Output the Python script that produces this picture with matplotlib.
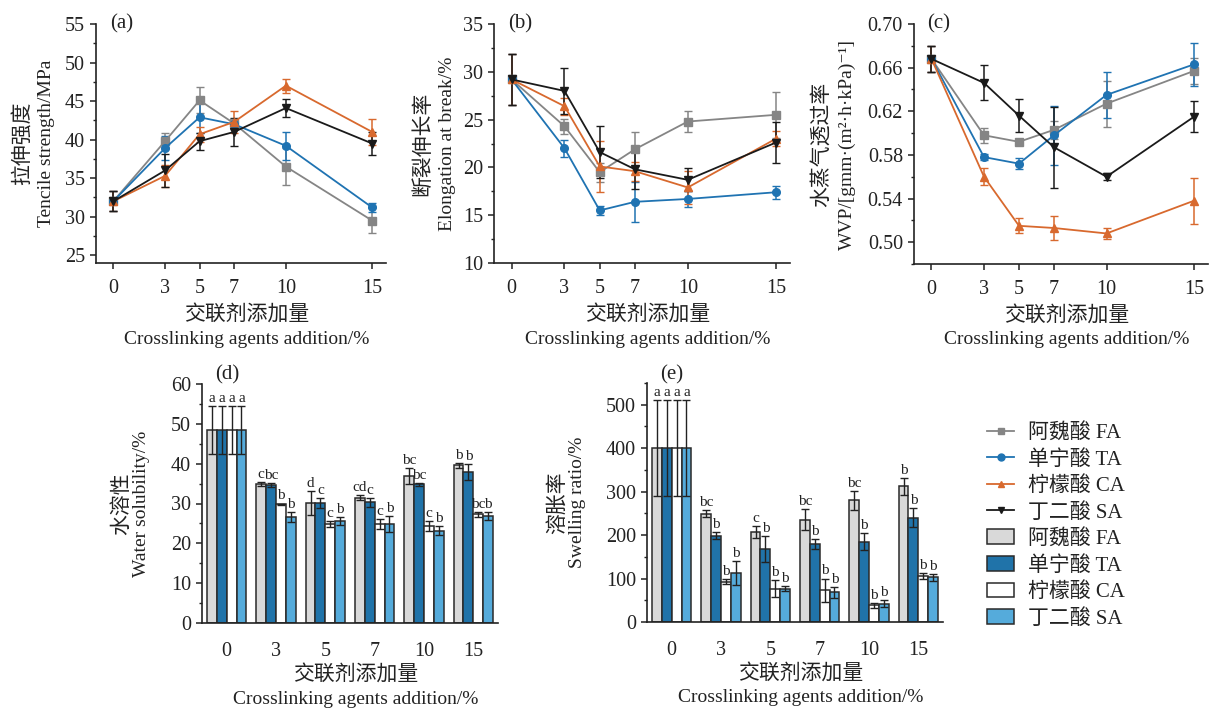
import numpy as np
import matplotlib
matplotlib.use('Agg')
import matplotlib.pyplot as plt
from matplotlib.lines import Line2D
from matplotlib.patches import Patch
from matplotlib.ticker import MultipleLocator, FixedLocator

plt.rcParams['font.family'] = ['Liberation Serif', 'Noto Sans CJK SC', 'DejaVu Sans']
plt.rcParams['axes.unicode_minus'] = False

# x: 交联剂添加量 (%)
x_add = [0, 3, 5, 7, 10, 15]
tick_labels = ['0', '3', '5', '7', '10', '15']
names = ['阿魏酸 FA', '单宁酸 TA', '柠檬酸 CA', '丁二酸 SA']

# (a) 拉伸强度 / MPa
ts_fa = [32.0, 39.8, 45.1, 42.1, 36.5, 29.5]
ts_ta = [32.0, 38.9, 42.9, 42.0, 39.2, 31.2]
ts_ca = [32.0, 35.3, 40.7, 42.3, 47.0, 41.0]
ts_sa = [32.0, 36.0, 39.8, 41.0, 44.1, 39.5]
ts_fa_err = [1.3, 1.0, 1.7, 0.6, 2.4, 1.6]
ts_ta_err = [1.3, 1.6, 2.0, 0.5, 1.8, 0.6]
ts_ca_err = [1.3, 1.4, 1.0, 1.4, 0.9, 1.7]
ts_sa_err = [1.3, 2.2, 1.1, 1.8, 1.2, 1.5]

# (b) 断裂伸长率 / %
el_fa = [29.2, 24.3, 19.5, 21.9, 24.8, 25.5]
el_ta = [29.2, 22.0, 15.5, 16.4, 16.7, 17.4]
el_ca = [29.2, 26.4, 20.1, 19.6, 17.9, 23.0]
el_sa = [29.2, 28.0, 21.6, 19.8, 18.7, 22.6]
el_fa_err = [2.7, 0.8, 1.0, 1.8, 1.1, 2.4]
el_ta_err = [2.7, 0.9, 0.5, 2.1, 0.8, 0.7]
el_ca_err = [2.7, 0.9, 2.7, 1.0, 1.7, 0.8]
el_sa_err = [2.7, 2.4, 2.7, 2.1, 1.2, 2.1]

# (c) WVP
wvp_fa = [0.668, 0.598, 0.592, 0.603, 0.627, 0.657]
wvp_ta = [0.668, 0.578, 0.572, 0.598, 0.635, 0.663]
wvp_ca = [0.668, 0.560, 0.515, 0.513, 0.508, 0.538]
wvp_sa = [0.668, 0.646, 0.616, 0.587, 0.560, 0.615]
wvp_fa_err = [0.012, 0.007, 0.003, 0.008, 0.021, 0.012]
wvp_ta_err = [0.012, 0.003, 0.005, 0.027, 0.021, 0.020]
wvp_ca_err = [0.012, 0.008, 0.007, 0.011, 0.005, 0.021]
wvp_sa_err = [0.012, 0.016, 0.015, 0.037, 0.003, 0.014]
wvp_ticks = [0.50, 0.54, 0.58, 0.62, 0.66, 0.70]

# (d) 水溶性 / %
ws_fa = [48.5, 34.9, 30.1, 31.5, 36.8, 39.6]
ws_ta = [48.5, 34.6, 30.1, 30.3, 34.8, 37.9]
ws_ca = [48.5, 29.8, 24.8, 24.8, 24.3, 27.3]
ws_sa = [48.5, 26.6, 25.6, 24.8, 23.2, 26.9]
ws_fa_err = [6.0, 0.5, 3.0, 0.6, 2.0, 0.6]
ws_ta_err = [6.0, 0.5, 1.2, 1.1, 0.3, 2.0]
ws_ca_err = [6.0, 0.2, 0.8, 1.3, 1.2, 0.6]
ws_sa_err = [6.0, 1.3, 1.0, 2.0, 1.2, 1.0]
ws_fa_sig = ['a', 'c', 'd', 'cd', 'bc', 'b']
ws_ta_sig = ['a', 'bc', 'c', 'c', 'bc', 'b']
ws_ca_sig = ['a', 'b', 'c', 'c', 'c', 'bc']
ws_sa_sig = ['a', 'b', 'b', 'b', 'b', 'b']

# (e) 溶胀率 / %
sr_fa = [400, 249, 207, 235, 280, 312]
sr_ta = [400, 199, 168, 179, 185, 240]
sr_ca = [400, 93, 77, 73, 38, 105]
sr_sa = [400, 113, 77, 68, 42, 103]
sr_fa_err = [110, 8, 13, 24, 22, 19]
sr_ta_err = [110, 8, 30, 12, 19, 22]
sr_ca_err = [110, 5, 20, 27, 5, 7]
sr_sa_err = [110, 27, 5, 13, 8, 8]
sr_fa_sig = ['a', 'bc', 'c', 'bc', 'bc', 'b']
sr_ta_sig = ['a', 'b', 'b', 'b', 'b', 'b']
sr_ca_sig = ['a', 'b', 'b', 'b', 'b', 'b']
sr_sa_sig = ['a', 'b', 'b', 'b', 'b', 'b']

line_colors = ['#858585', '#1f73b2', '#d8692e', '#1a1a1a']
line_markers = ['s', 'o', '^', 'v']
bar_colors = ['#d9d9d9', '#2073a9', '#ffffff', '#55abdb']

PX = 0.72  # points per pixel at dpi 100
INK = '#222222'


def style_axes(ax):
    for s in ['top', 'right']:
        ax.spines[s].set_visible(False)
    for s in ['left', 'bottom']:
        ax.spines[s].set_linewidth(1.2)
        ax.spines[s].set_color(INK)
    ax.tick_params(axis='both', which='major', direction='out', length=4.5, width=1.1,
                   labelsize=14.5, colors=INK)
    ax.tick_params(axis='y', which='minor', direction='out', length=2.5, width=1.0, colors=INK)


def labels(ax, cn_y, en_y, off_cn, off_en, tag, tag_pos, xoff_cn=-52, xoff_en=-76):
    ax.annotate('交联剂添加量', xy=(0.5, 0), xycoords='axes fraction', xytext=(4, xoff_cn * PX),
                textcoords='offset points', ha='center', va='center', fontsize=15,
                fontweight='light', color=INK)
    ax.annotate('Crosslinking agents addition/%', xy=(0.5, 0), xycoords='axes fraction',
                xytext=(4, xoff_en * PX), textcoords='offset points', ha='center', va='center',
                fontsize=14, color=INK)
    ax.annotate(cn_y, xy=(0, 0.5), xycoords='axes fraction', xytext=(off_cn * PX, 0),
                textcoords='offset points', ha='center', va='center', rotation=90, fontsize=15,
                fontweight='light', color=INK)
    ax.annotate(en_y, xy=(0, 0.5), xycoords='axes fraction', xytext=(off_en * PX, 0),
                textcoords='offset points', ha='center', va='center', rotation=90, fontsize=14,
                color=INK)
    ax.annotate(tag, xy=(0, 1), xycoords='axes fraction', xytext=(tag_pos[0] * PX, tag_pos[1] * PX),
                textcoords='offset points', ha='left', va='center', fontsize=15, color=INK)


def line_panel(ax, series, errs, ylim, major, minor, fmt=None, ticks=None):
    for y, e, c, m in zip(series, errs, line_colors, line_markers):
        ax.errorbar(x_add, y, yerr=e, color=c, marker=m, markersize=5.5, linewidth=1.3,
                    elinewidth=1.1, capsize=3, capthick=1.0, ecolor=c)
    ax.set_xlim(-1, 15.8)
    ax.set_ylim(*ylim)
    ax.set_xticks(x_add)
    ax.set_xticklabels(tick_labels)
    if ticks is not None:
        ax.yaxis.set_major_locator(FixedLocator(ticks))
    else:
        ax.yaxis.set_major_locator(MultipleLocator(major))
    ax.yaxis.set_minor_locator(MultipleLocator(minor))
    if fmt:
        ax.yaxis.set_major_formatter(plt.FormatStrFormatter(fmt))
    style_axes(ax)
    ax.tick_params(axis='x', pad=7)


def bar_panel(ax, series, errs, sigs, ylim, major, minor):
    idx = np.arange(len(x_add))
    w = 0.2
    top = ylim[1]
    for k, (y, e, s, c) in enumerate(zip(series, errs, sigs, bar_colors)):
        pos = idx + (k - 1.5) * w
        ax.bar(pos, y, width=w, color=c, edgecolor='#2a2a2a', linewidth=1.1,
               yerr=e, capsize=3, error_kw=dict(elinewidth=1.0, capthick=1.0, ecolor=INK))
        for xp, yv, ev, lab in zip(pos, y, e, s):
            ax.text(xp, yv + ev + top * 0.005, lab, ha='center', va='bottom', fontsize=11,
                    color=INK)
    ax.set_xlim(-0.5, 5.5)
    ax.set_ylim(*ylim)
    ax.set_xticks(idx)
    ax.set_xticklabels(tick_labels)
    ax.yaxis.set_major_locator(MultipleLocator(major))
    ax.yaxis.set_minor_locator(MultipleLocator(minor))
    style_axes(ax)
    ax.tick_params(axis='x', length=0, pad=14)


fig = plt.figure(figsize=(12.1, 7.09), dpi=100)
W, H = 1210.0, 709.0


def add_ax(l, r, t, b):
    return fig.add_axes([l / W, 1 - b / H, (r - l) / W, (b - t) / H])


ax_a = add_ax(96, 386, 24, 263)
ax_b = add_ax(494, 790, 24, 263)
ax_c = add_ax(914, 1208, 24, 264)
ax_d = add_ax(202, 498, 384, 623)
ax_e = add_ax(647, 943, 383, 622)

line_panel(ax_a, [ts_fa, ts_ta, ts_ca, ts_sa], [ts_fa_err, ts_ta_err, ts_ca_err, ts_sa_err],
           (24, 55), 5, 2.5)
labels(ax_a, '拉伸强度', 'Tencile strength/MPa', -73, -49, '(a)', (14, 0))

line_panel(ax_b, [el_fa, el_ta, el_ca, el_sa], [el_fa_err, el_ta_err, el_ca_err, el_sa_err],
           (10, 35), 5, 2.5)
labels(ax_b, '断裂伸长率', 'Elongation at break/%', -71, -47, '(b)', (14, 0))

line_panel(ax_c, [wvp_fa, wvp_ta, wvp_ca, wvp_sa], [wvp_fa_err, wvp_ta_err, wvp_ca_err, wvp_sa_err],
           (0.48, 0.70), 0.04, 0.02, fmt='%.2f', ticks=wvp_ticks)
labels(ax_c, '水蒸气透过率', 'WVP/[gmm·(m²·h·kPa)⁻¹]', -92, -67, '(c)', (13, 0))

bar_panel(ax_d, [ws_fa, ws_ta, ws_ca, ws_sa], [ws_fa_err, ws_ta_err, ws_ca_err, ws_sa_err],
          [ws_fa_sig, ws_ta_sig, ws_ca_sig, ws_sa_sig], (0, 60), 10, 5)
labels(ax_d, '水溶性', 'Water solubility/%', -80, -60, '(d)', (13, 9))

bar_panel(ax_e, [sr_fa, sr_ta, sr_ca, sr_sa], [sr_fa_err, sr_ta_err, sr_ca_err, sr_sa_err],
          [sr_fa_sig, sr_ta_sig, sr_ca_sig, sr_sa_sig], (0, 550), 100, 50)
labels(ax_e, '溶胀率', 'Swelling ratio/%', -89, -69, '(e)', (13, 8))

handles = []
for c, m in zip(line_colors, line_markers):
    handles.append(Line2D([], [], color=c, marker=m, markersize=5, linewidth=1.3))
for c in bar_colors:
    handles.append(Patch(facecolor=c, edgecolor='#2a2a2a', linewidth=1.1))
leg = fig.legend(handles, names + names, loc='upper left', bbox_to_anchor=(987 / W, 1 - 423 / H),
                 frameon=False, fontsize=15, handlelength=1.3, handletextpad=0.65,
                 labelspacing=0.32, borderpad=0, borderaxespad=0, labelcolor=INK)
for t in leg.get_texts():
    t.set_fontweight('light')

fig.savefig('out.png', dpi=100)
